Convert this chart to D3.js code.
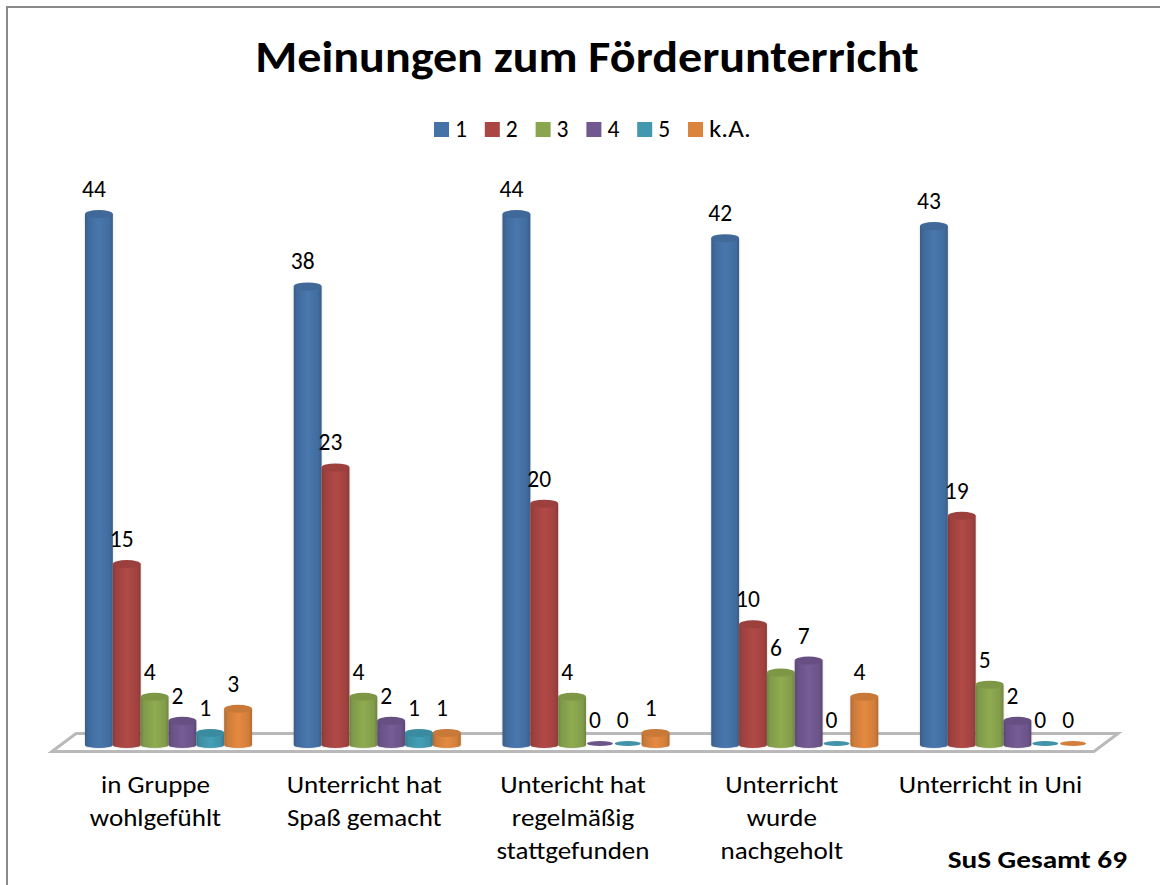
<!DOCTYPE html>
<html><head><meta charset="utf-8">
<script src="https://cdn.jsdelivr.net/npm/d3@7"></script>
<style>html,body{margin:0;padding:0;background:#fff}svg{display:block}text{font-family:Carlito,Calibri,Lato,sans-serif;fill:#000}</style>
</head><body><div id="chart"></div>
<script>
const categories = [
  ["in Gruppe","wohlgefühlt"],
  ["Unterricht hat","Spaß gemacht"],
  ["Untericht hat","regelmäßig","stattgefunden"],
  ["Unterricht","wurde","nachgeholt"],
  ["Unterricht in Uni"]
];
const seriesNames = ["1","2","3","4","5","k.A."];
const seriesColors = ["#4572a7","#aa4643","#89a54e","#71588f","#4198af","#db843d"];
const s1 = [44,38,44,42,43];
const s2 = [15,23,20,10,19];
const s3 = [4,4,4,6,5];
const s4 = [2,2,0,7,2];
const s5 = [1,1,0,0,0];
const sKA = [3,1,1,4,0];
const allSeries = [s1,s2,s3,s4,s5,sKA];
const titleText = "Meinungen zum Förderunterricht";
const noteText = "SuS Gesamt 69";

const W = 1160, H = 885;
const svg = d3.select("#chart").append("svg").attr("width",W).attr("height",H);
const defs = svg.append("defs");

const idx = d3.range(categories.length);
const x0 = d3.scaleBand().domain(idx).range([85,1087]).paddingInner(0.2).paddingOuter(0);
const x1 = d3.scaleBand().domain(d3.range(seriesNames.length)).range([0,x0.bandwidth()]);
const y = d3.scaleLinear().domain([0,44]).range([745,214]);

function stretched(sel, x, yy, sx){
  return sel.attr("transform",`translate(${x},${yy}) scale(${sx},1)`);
}

svg.append("path").attr("d","M7,885V7H1160").attr("fill","none")
  .attr("stroke","#8a8a8a").attr("stroke-width",2);

stretched(svg.append("text"),587,72,1.068).attr("text-anchor","middle")
  .attr("font-size",45).attr("font-weight",700).text(titleText);

// legend
const legendX = d3.scalePoint().domain(d3.range(seriesNames.length)).range([434,688]);
const lg = svg.append("g").selectAll("g").data(seriesNames).join("g")
  .attr("transform",(d,i)=>`translate(${legendX(i)},122)`);
lg.append("rect").attr("width",15).attr("height",15).attr("fill",(d,i)=>seriesColors[i]);
lg.append("text").attr("transform",d=>`translate(21,15) scale(${d.length>1?1.15:1},1)`)
  .attr("font-size",23.5).text(d=>d);

// floor
svg.append("path").attr("d",d3.line()([[52,751.5],[76,733.5],[1118,733.5],[1094,751.5]])+"Z")
  .attr("fill","#fff").attr("stroke","#b9b9b9").attr("stroke-width",3).attr("stroke-linejoin","miter");

// gradients
seriesColors.forEach((c,i)=>{
  const g = defs.append("linearGradient").attr("id","cyl"+i);
  const col = d3.color(c);
  [[0,col.darker(0.6)],[0.12,col.darker(0.2)],[0.5,col.brighter(0.12)],[0.88,col.darker(0.15)],[1,col.darker(0.6)]]
    .forEach(([o,k])=>g.append("stop").attr("offset",o).attr("stop-color",k));
});
defs.append("filter").attr("id","soft").attr("x","-20%").attr("y","-5%").attr("width","140%").attr("height","110%")
  .append("feGaussianBlur").attr("stdDeviation",1.2);
defs.append("filter").attr("id","aa").attr("x","-5%").attr("y","-5%").attr("width","110%").attr("height","110%")
  .append("feGaussianBlur").attr("stdDeviation",0.5);

const ry = 4;
const bars = svg.append("g").selectAll("g").data(idx).join("g")
  .attr("transform",i=>`translate(${x0(i)},0)`);

seriesNames.forEach((name,si)=>{
  const w = x1.bandwidth();
  const gs = bars.append("g").attr("transform",`translate(${x1(si)},0)`);
  gs.each(function(i){
    const v = allSeries[si][i], top = y(v), g = d3.select(this);
    if (v === 0) {
      g.append("ellipse").attr("cx",w/2).attr("cy",743.5).attr("rx",w/2-1).attr("ry",2.5)
        .attr("fill",d3.color(seriesColors[si]).darker(0.1)).attr("filter","url(#aa)");
      return;
    }
    const base = y(0);
    const body = `M0,${top}V${base}A${w/2},${ry-1} 0 0 0 ${w},${base}V${top}Z`;
    g.append("path").attr("d",body).attr("fill","#777").attr("opacity",0.35).attr("filter","url(#soft)");
    const inner = g.append("g").attr("filter","url(#aa)");
    inner.append("path").attr("d",body).attr("fill",`url(#cyl${si})`);
    inner.append("ellipse").attr("cx",w/2).attr("cy",top).attr("rx",w/2).attr("ry",ry)
      .attr("fill",d3.color(seriesColors[si]).darker(0.25));
  });
});

// value labels
seriesNames.forEach((name,si)=>{
  svg.append("g").selectAll("text").data(idx).join("text")
    .attr("transform",i=>`translate(${x0(i)+x1(si)+x1.bandwidth()/2-5},${y(allSeries[si][i])-17})`)
    .attr("text-anchor","middle").attr("font-size",23.5)
    .text(i=>allSeries[si][i]);
});

// category labels
idx.forEach(i=>{
  const cx = x0(i)+x0.bandwidth()/2-13;
  categories[i].forEach((line,k)=>{
    stretched(svg.append("text"),cx,793+k*33,1.15).attr("text-anchor","middle")
      .attr("font-size",23.5).text(line);
  });
});

stretched(svg.append("text"),1127,868,1.18).attr("text-anchor","end")
  .attr("font-size",24.8).attr("font-weight",700).text(noteText);
</script></body></html>
